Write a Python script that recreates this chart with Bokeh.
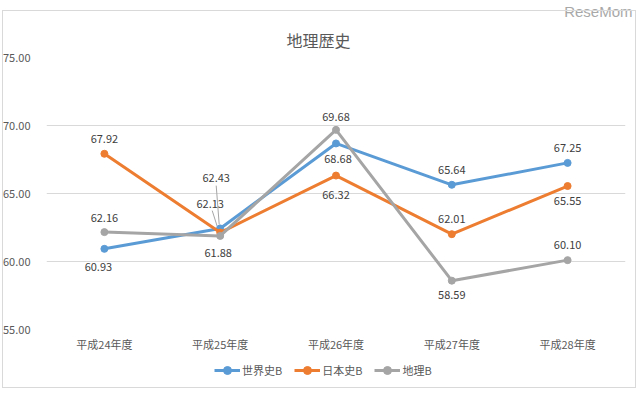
from bokeh.plotting import figure
from bokeh.layouts import column
from bokeh.models import (FactorRange, Range1d, Legend, LegendItem, ColumnDataSource,
                          FixedTicker, Title, InlineStyleSheet)
from bokeh.core.properties import value
from bokeh.embed import file_html
from bokeh.resources import INLINE

categories = ["平成24年度", "平成25年度", "平成26年度", "平成27年度", "平成28年度"]
series_names = ["世界史B", "日本史B", "地理B"]
world_hist = [60.93, 62.43, 68.68, 65.64, 67.25]
japan_hist = [67.92, 62.13, 66.32, 62.01, 65.55]
geography = [62.16, 61.88, 69.68, 58.59, 60.10]
y_ticks = [55, 60, 65, 70, 75]

colors = ["#5B9BD5", "#ED7D31", "#A5A5A5"]
# label pixel offsets (x, y) per series per category; positive y = down
label_offsets = [
    [(-6, 18), (-4, -50), (2, 16), (0, -15), (0, -15)],
    [(0, -15), (-10, -29), (0, 19), (0, -15), (0, 15)],
    [(0, -14), (-2, 17), (0, -13), (0, 14), (0, -15)],
]
FONT = "Noto Sans CJK JP"
W, H_MAIN, H_LEG = 640, 355, 42
FRAME_H = 273

p = figure(width=W, height=H_MAIN, x_range=FactorRange(*categories, range_padding=0),
           y_range=Range1d(55, 75), output_backend="svg", toolbar_location=None,
           min_border_left=45, min_border_right=15, min_border_top=56, min_border_bottom=26)
p.outline_line_color = None

# outermost title line: the ReseMom watermark
p.title.text = "ReseMom"
p.title.align = "right"
p.title.offset = -7
p.title.standoff = 0
p.title.text_font = "Liberation Sans"
p.title.text_font_size = "15px"
p.title.text_font_style = "normal"
p.title.text_color = "#a8a8a8"

main_title = Title(text="地理歴史", align="left", offset=240, standoff=12,
                   text_font=FONT, text_font_size="16px", text_font_style="normal",
                   text_color="#595959")
p.add_layout(main_title, "above")

p.xgrid.grid_line_color = None
p.ygrid.grid_line_color = "#d9d9d9"
p.yaxis.ticker = FixedTicker(ticks=y_ticks)
p.yaxis.major_label_overrides = {t: f"{t:.2f}" for t in y_ticks}
for ax in (p.xaxis, p.yaxis):
    ax.axis_line_color = None
    ax.major_tick_line_color = None
    ax.minor_tick_line_color = None
    ax.major_label_text_font = FONT
    ax.major_label_text_font_size = "11px"
    ax.major_label_text_color = "#595959"
p.yaxis.major_label_standoff = 10
p.xaxis.major_label_standoff = 0

# leader lines for the two displaced labels at 平成25年度 (pixel offsets from the point)
i25 = categories.index("平成25年度") + 0.5
px_x = 1.0 / 116.0
px_y = 20.0 / FRAME_H
leaders = [(world_hist[1], (-4, -43), (-1, -4)), (japan_hist[1], (-8, -22), (-2, -3))]
leader_src = ColumnDataSource(dict(
    x0=[i25 + a[0] * px_x for _, a, _ in leaders],
    y0=[v - a[1] * px_y for v, a, _ in leaders],
    x1=[i25 + b[0] * px_x for _, _, b in leaders],
    y1=[v - b[1] * px_y for v, _, b in leaders],
))
p.segment(x0="x0", y0="y0", x1="x1", y1="y1", source=leader_src, line_color="#a6a6a6", line_width=1)

# legend figure below the chart
lf = figure(width=W, height=H_LEG, output_backend="svg", toolbar_location=None,
            x_range=Range1d(0, 1), y_range=Range1d(0, 1), min_border=0)
lf.outline_line_color = None
lf.axis.visible = False
lf.grid.visible = False

items = []
for name, vals, col, offs in zip(series_names, [world_hist, japan_hist, geography], colors, label_offsets):
    src = ColumnDataSource(dict(x=categories, y=vals,
                                lbl=[f"{v:.2f}" for v in vals],
                                dx=[o[0] for o in offs], dy=[o[1] for o in offs]))
    p.line("x", "y", source=src, line_color=col, line_width=3)
    p.scatter("x", "y", source=src, size=7, fill_color=col, line_color=col)
    p.text("x", "y", text="lbl", source=src, x_offset="dx", y_offset="dy",
           text_align="center", text_baseline="middle", text_font=value(FONT),
           text_font_size="11px", text_color="#404040")
    # proxy renderers (points lie outside the visible range) for the legend swatches
    proxy = ColumnDataSource(dict(x=[-5, -4], y=[-5, -5]))
    l1 = lf.line("x", "y", source=proxy, line_color=col, line_width=3)
    l2 = lf.scatter("x", "y", source=proxy, size=7, fill_color=col, line_color=col)
    items.append(LegendItem(label=name, renderers=[l1, l2]))

legend = Legend(items=items, orientation="horizontal", location=(168, 17),
                border_line_color=None, background_fill_alpha=0,
                label_text_font=FONT, label_text_font_size="11px", label_text_color="#595959",
                glyph_width=26, label_standoff=2, spacing=12, margin=0, padding=2)
lf.add_layout(legend, "center")

box_css = InlineStyleSheet(css=""":host::after { content: ''; position: absolute; left: 2px; top: 10px;
  width: 632px; height: 376px; border: 1px solid #d9d9d9; pointer-events: none; }
:host { position: relative; }""")
layout = column(p, lf, spacing=0, stylesheets=[box_css])
open("out.html", "w").write(file_html(layout, INLINE))
